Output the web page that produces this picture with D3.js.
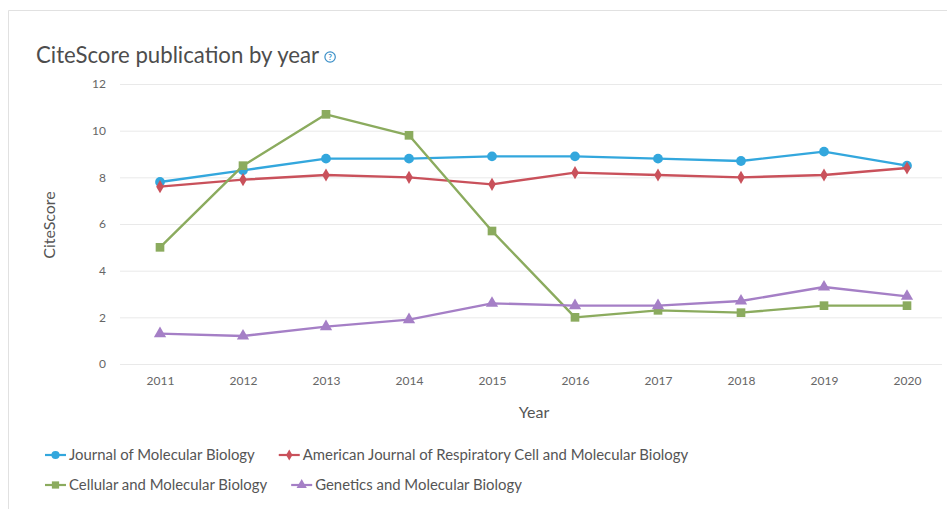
<!DOCTYPE html>
<html>
<head>
<meta charset="utf-8">
<script src="https://cdn.jsdelivr.net/npm/d3@7"></script>
<style>
  html, body { margin: 0; padding: 0; background: #fff; }
  svg { display: block; font-family: Lato, "Open Sans", sans-serif; }
</style>
</head>
<body>
<svg id="chart" width="947" height="509"></svg>
<script>
const years = ["2011","2012","2013","2014","2015","2016","2017","2018","2019","2020"];
const yTicks = [0, 2, 4, 6, 8, 10, 12];
const seriesNames = [
  "Journal of Molecular Biology",
  "American Journal of Respiratory Cell and Molecular Biology",
  "Cellular and Molecular Biology",
  "Genetics and Molecular Biology"
];
const jmb   = [7.8, 8.3, 8.8, 8.8, 8.9, 8.9, 8.8, 8.7, 9.1, 8.5];
const ajrcmb = [7.6, 7.9, 8.1, 8.0, 7.7, 8.2, 8.1, 8.0, 8.1, 8.4];
const cmb   = [5.0, 8.5, 10.7, 9.8, 5.7, 2.0, 2.3, 2.2, 2.5, 2.5];
const gmb   = [1.3, 1.2, 1.6, 1.9, 2.6, 2.5, 2.5, 2.7, 3.3, 2.9];
const seriesValues = [jmb, ajrcmb, cmb, gmb];
const seriesColors = ["#33a7dd", "#c9515b", "#8bab5e", "#a57fc6"];
const seriesSymbols = [d3.symbolCircle, d3.symbolDiamond, d3.symbolSquare, d3.symbolTriangle];
const symbolSizes = [75, 50, 75, 65];

const svg = d3.select("#chart");

// card border
svg.append("path")
  .attr("d", "M8.5,509 L8.5,10.5 L947,10.5")
  .attr("fill", "none").attr("stroke", "#e1e1e1").attr("stroke-width", 1);

// title
const title = svg.append("text")
  .attr("x", 36).attr("y", 63)
  .attr("font-size", 22.2).attr("fill", "#4d4d4d")
  .text("CiteScore publication by year");
const tw = title.node().getComputedTextLength();
const hx = 36 + tw + 11;
svg.append("circle").attr("cx", hx).attr("cy", 57).attr("r", 5.2)
  .attr("fill", "none").attr("stroke", "#3b8fc7").attr("stroke-width", 1.2);
svg.append("text").attr("x", hx).attr("y", 60.2).attr("text-anchor", "middle")
  .attr("font-size", 8).attr("fill", "#3b8fc7").attr("font-weight", "bold").text("?");

const x = d3.scalePoint().domain(years).range([160, 907]);
const y = d3.scaleLinear().domain([0, 12]).range([364, 84]);

// grid
svg.append("g").selectAll("line").data(yTicks).join("line")
  .attr("x1", 120).attr("x2", 942)
  .attr("y1", d => y(d) + 0.5).attr("y2", d => y(d) + 0.5)
  .attr("stroke", "#e9e9e9").attr("stroke-width", 1);

// y axis
const yAxis = svg.append("g").attr("transform", "translate(106,0)")
  .call(d3.axisLeft(y).tickValues(yTicks).tickSize(0).tickPadding(0));
yAxis.select(".domain").remove();
yAxis.selectAll("text").attr("font-size", 12).attr("fill", "#666").attr("font-family", "Lato, sans-serif");

// x axis
const xAxis = svg.append("g").attr("transform", "translate(0,376)")
  .call(d3.axisBottom(x).tickSize(0).tickPadding(0));
xAxis.select(".domain").remove();
xAxis.selectAll("text").attr("font-size", 12).attr("fill", "#666").attr("font-family", "Lato, sans-serif");

// axis titles
svg.append("text").attr("transform", "translate(55,225) rotate(-90)")
  .attr("text-anchor", "middle").attr("font-size", 16).attr("fill", "#555").text("CiteScore");
svg.append("text").attr("x", 534).attr("y", 418)
  .attr("text-anchor", "middle").attr("font-size", 16).attr("fill", "#555").text("Year");

// lines
const line = d3.line().x((d, i) => x(years[i])).y(d => y(d));
seriesValues.forEach((vals, si) => {
  const g = svg.append("g");
  g.append("path").datum(vals).attr("d", line)
    .attr("fill", "none").attr("stroke", seriesColors[si]).attr("stroke-width", 2.4)
    .attr("stroke-linejoin", "round");
  g.selectAll("path.pt").data(vals).join("path").attr("class", "pt")
    .attr("transform", (d, i) => `translate(${x(years[i])},${y(d)})`)
    .attr("d", d3.symbol().type(seriesSymbols[si]).size(symbolSizes[si]))
    .attr("fill", seriesColors[si]);
});

// legend
const legendRows = [[0, 1], [2, 3]];
const rowY = [455, 485];
legendRows.forEach((row, ri) => {
  let cx = 45;
  row.forEach(si => {
    const g = svg.append("g").attr("transform", `translate(${cx},${rowY[ri]})`);
    g.append("line").attr("x1", 0).attr("x2", 21).attr("y1", 0).attr("y2", 0)
      .attr("stroke", seriesColors[si]).attr("stroke-width", 2.2);
    g.append("path").attr("transform", "translate(10.5,0)")
      .attr("d", d3.symbol().type(seriesSymbols[si]).size(symbolSizes[si] * 0.7))
      .attr("fill", seriesColors[si]);
    const t = g.append("text").attr("x", 24).attr("y", 5)
      .attr("font-size", 14.9).attr("fill", "#555").text(seriesNames[si]);
    cx += 24 + t.node().getComputedTextLength() + 24;
  });
});
</script>
</body>
</html>
